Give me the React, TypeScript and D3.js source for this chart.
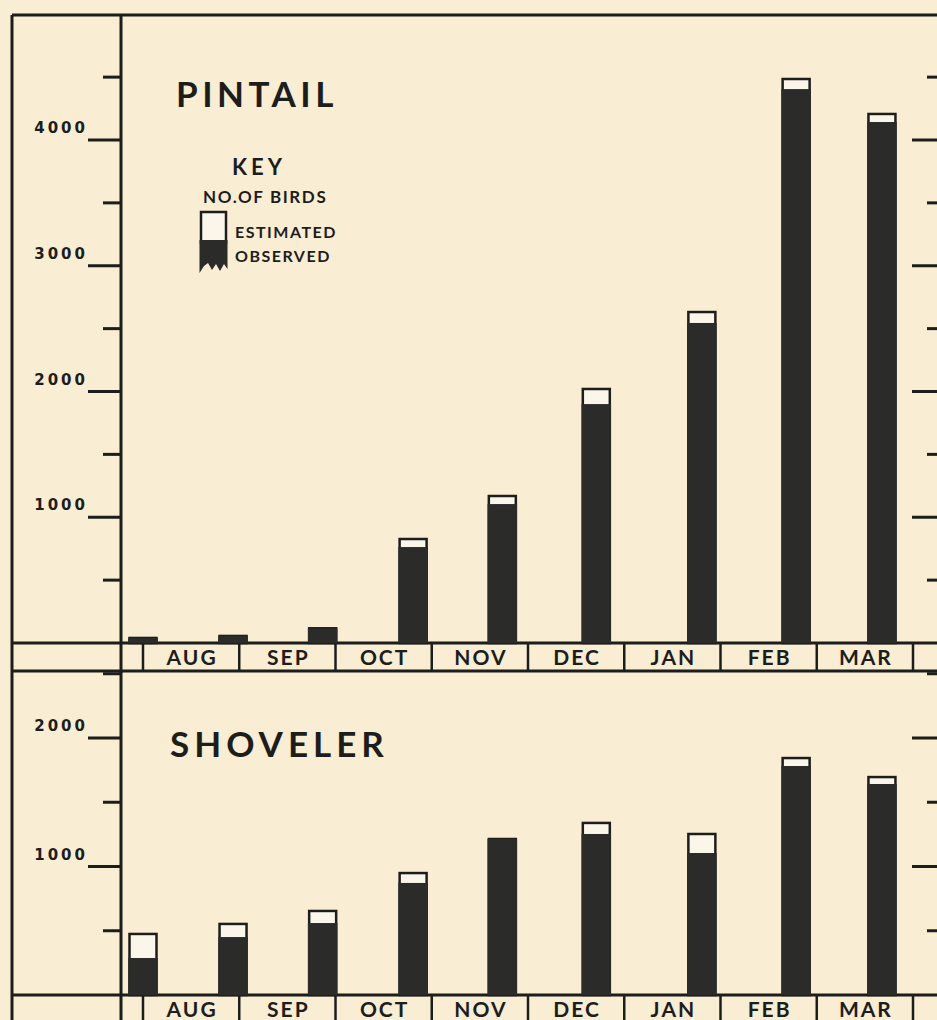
import React, { useEffect, useRef } from 'react';
import * as d3 from 'd3';

// census counts
const months = ['AUG', 'SEP', 'OCT', 'NOV', 'DEC', 'JAN', 'FEB', 'MAR'];
const seasonStart = '1950-08-01';
const surveyDates = [
  '1950-08-01', '1950-08-30', '1950-09-27', '1950-10-26', '1950-11-23',
  '1950-12-23', '1951-01-26', '1951-02-23', '1951-03-22',
];

const pintailTotal = [40, 56, 117, 827, 1169, 2020, 2632, 4485, 4207];
const pintailObserved = [40, 56, 117, 763, 1105, 1900, 2545, 4405, 4143];
const pintailTickLabels = ['1000', '2000', '3000', '4000'];

const shovelerTotal = [475, 553, 654, 949, 1214, 1339, 1253, 1844, 1696];
const shovelerObserved = [288, 451, 560, 872, 1214, 1253, 1105, 1782, 1642];
const shovelerTickLabels = ['1000', '2000'];

const keyItems = ['ESTIMATED', 'OBSERVED'];

const W = 937;
const H = 1020;
const INK = '#1d1d1c';
const BAR = '#2b2b2a';
const PAPER = '#f9edd3';
const FONT = 'Lato, "DejaVu Sans", sans-serif';

const App = () => {
  const svgRef = useRef<SVGSVGElement>(null);

  useEffect(() => {
    const svg = d3.select(svgRef.current);
    svg.selectAll('*').remove();

    svg.append('rect').attr('width', W).attr('height', H).attr('fill', PAPER);

    const outerX = 12;
    const axisL = 121;
    const axisR = 945;
    const frameTop = 15;

    // x: one equal cell per month, survey dates placed inside their month
    const parse = d3.timeParse('%Y-%m-%d');
    const start = parse(seasonStart)!;
    const monthEdges = d3.timeMonth.range(start, d3.timeMonth.offset(start, months.length + 1));
    const monthX = d3.scaleLinear().domain([0, months.length]).range([143, 913]);
    const x = d3.scaleTime()
      .domain(monthEdges)
      .range(monthEdges.map((_, i) => monthX(i)));
    const dates = surveyDates.map(d => parse(d)!);
    const barW = 27;

    const line = (x1, y1, x2, y2, w = 3) =>
      svg.append('line')
        .attr('x1', x1).attr('y1', y1).attr('x2', x2).attr('y2', y2)
        .attr('stroke', INK).attr('stroke-width', w);

    const drawPanel = ({ title, total, observed, tickLabels, y, maxTick, rowTop, top, titleX, titleY, titleSpacing }) => {
      const base = y(0);

      // side axes with long ticks on thousands, short on five hundreds
      line(axisL, top, axisL, rowTop + 30);
      d3.range(500, maxTick + 1, 500).forEach(v => {
        const major = v % 1000 === 0;
        line(axisL - (major ? 33 : 18), y(v), axisL, y(v), 3);
        line(axisR - (major ? 33 : 18), y(v), axisR, y(v), 3);
      });
      svg.append('g').selectAll('text')
        .data(tickLabels)
        .join('text')
        .attr('x', 88)
        .attr('y', d => y(+d) - 7)
        .attr('text-anchor', 'end')
        .attr('font-family', '"DejaVu Sans", sans-serif')
        .attr('font-weight', 700)
        .attr('font-size', 15)
        .attr('letter-spacing', 3)
        .attr('fill', INK)
        .text(d => d);

      // month strip under the bars
      line(outerX, rowTop, W, rowTop);
      line(outerX, rowTop + 28, W, rowTop + 28);
      monthEdges.forEach((d, i) => line(x(d), rowTop, x(d), rowTop + 28, 2.5));
      svg.append('g').selectAll('text')
        .data(months)
        .join('text')
        .attr('x', (d, i) => (x(monthEdges[i]) + x(monthEdges[i + 1])) / 2 + 1)
        .attr('y', rowTop + 22)
        .attr('text-anchor', 'middle')
        .attr('font-family', FONT)
        .attr('font-weight', 700)
        .attr('font-size', 21)
        .attr('letter-spacing', 2)
        .attr('fill', INK)
        .text(d => d);

      // bars: whole bar outlined (estimated), dark part observed
      const g = svg.append('g');
      g.selectAll('rect.est')
        .data(total)
        .join('rect')
        .attr('class', 'est')
        .attr('x', (d, i) => x(dates[i]) - barW / 2)
        .attr('y', d => y(d))
        .attr('width', barW)
        .attr('height', d => base - y(d))
        .attr('fill', '#fbf6ea')
        .attr('stroke', INK)
        .attr('stroke-width', 2.5);
      g.selectAll('rect.obs')
        .data(observed)
        .join('rect')
        .attr('class', 'obs')
        .attr('x', (d, i) => x(dates[i]) - barW / 2 - 1.25)
        .attr('y', d => y(d))
        .attr('width', barW + 2.5)
        .attr('height', d => base - y(d))
        .attr('fill', BAR);

      svg.append('text')
        .attr('x', titleX)
        .attr('y', titleY)
        .attr('font-family', FONT)
        .attr('font-weight', 700)
        .attr('font-size', 35)
        .attr('letter-spacing', titleSpacing)
        .attr('fill', INK)
        .text(title);
    };

    const yPintail = d3.scaleLinear().domain([0, 4000]).range([643, 140]);
    const yShoveler = d3.scaleLinear().domain([0, 2000]).range([995, 738]);

    drawPanel({
      title: 'PINTAIL', total: pintailTotal, observed: pintailObserved,
      tickLabels: pintailTickLabels, y: yPintail, maxTick: 4500,
      rowTop: 643, top: frameTop, titleX: 176, titleY: 107, titleSpacing: 4.5,
    });
    drawPanel({
      title: 'SHOVELER', total: shovelerTotal, observed: shovelerObserved,
      tickLabels: shovelerTickLabels, y: yShoveler, maxTick: 2500,
      rowTop: 995, top: 671, titleX: 170, titleY: 757, titleSpacing: 5,
    });

    // outer frame
    line(outerX, frameTop, outerX, H);
    line(outerX, frameTop, W, frameTop);

    // key
    const key = svg.append('g').attr('font-family', FONT).attr('font-weight', 700).attr('fill', INK);
    key.append('text').attr('x', 232).attr('y', 175).attr('font-size', 22).attr('letter-spacing', 4).text('KEY');
    key.append('text').attr('x', 203).attr('y', 203).attr('font-size', 17).attr('letter-spacing', 1.6).text('NO.OF BIRDS');
    key.selectAll('text.item')
      .data(keyItems)
      .join('text')
      .attr('class', 'item')
      .attr('x', 235)
      .attr('y', (d, i) => 238 + i * 24)
      .attr('font-size', 16)
      .attr('letter-spacing', 1.5)
      .text(d => d);
    key.append('rect')
      .attr('x', 201).attr('y', 212).attr('width', 25).attr('height', 31)
      .attr('fill', '#fbf6ea').attr('stroke', INK).attr('stroke-width', 2.5);
    key.append('path')
      .attr('d', 'M199.5,240 L227.5,240 L227.5,269 L224,264 L220,271 L216,264 L212,270 L208,263 L204,266 L199.5,273 Z')
      .attr('fill', BAR);
  }, []);

  return <svg ref={svgRef} width={W} height={H} style={{ position: 'absolute', left: 0, top: 0 }}></svg>;
};

export default App;
